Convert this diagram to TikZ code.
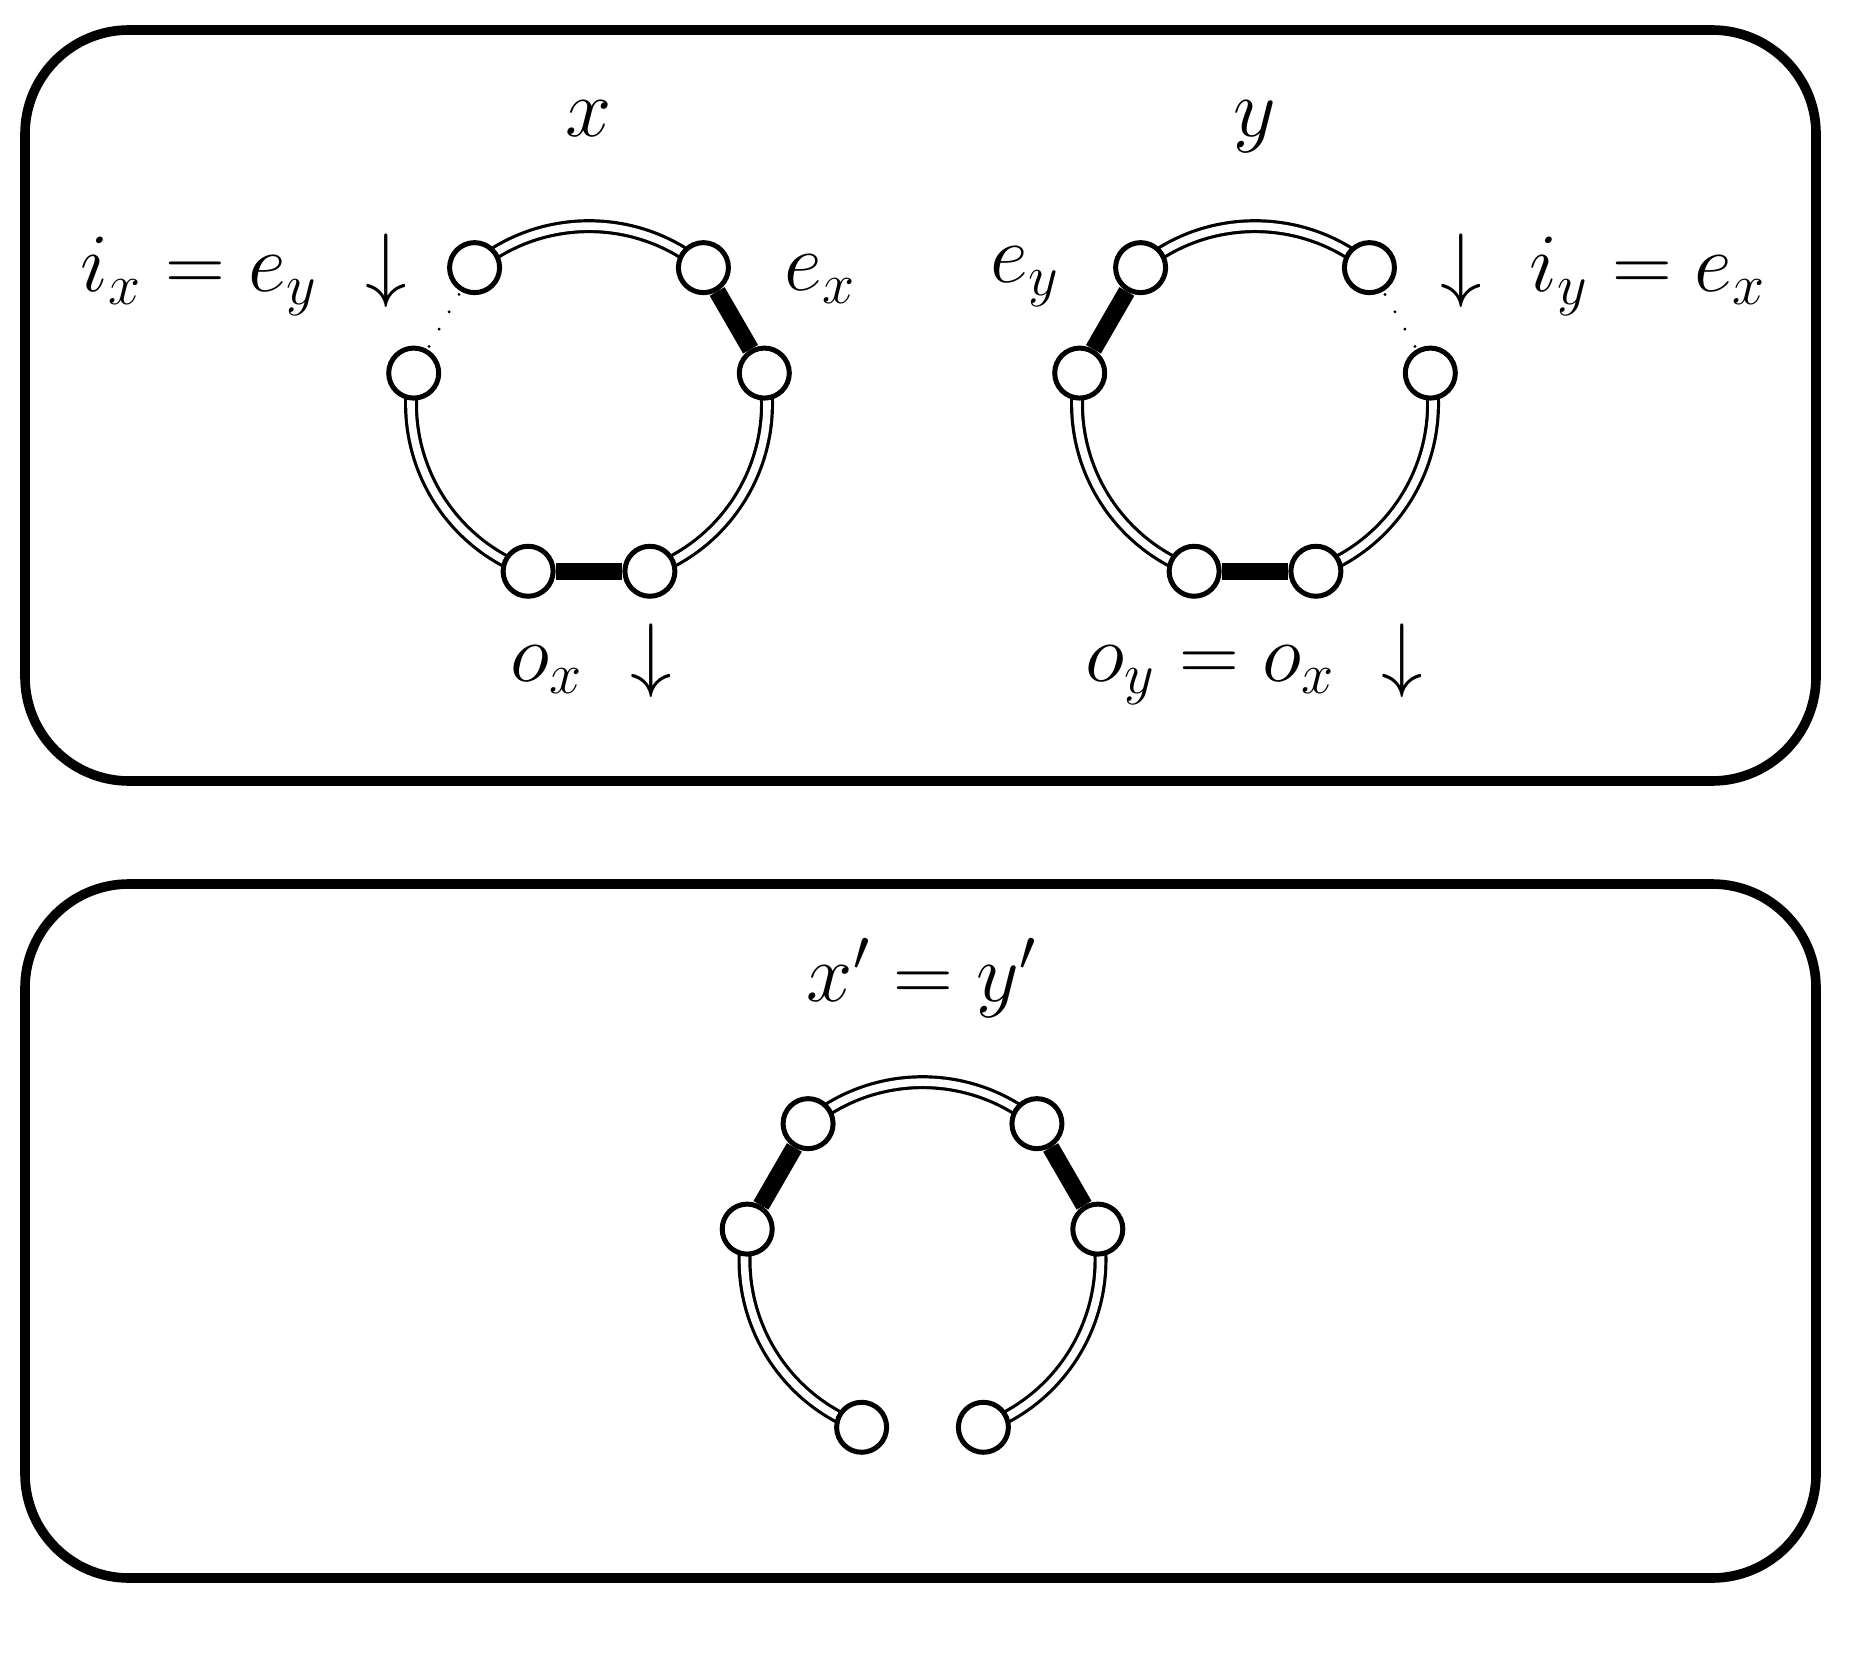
\documentclass[tikz,border=0pt]{standalone}
\usetikzlibrary{backgrounds}
\begin{document}
\begin{tikzpicture}[x=0.25pt,y=0.25pt,
  font=\huge,
  box/.style={line width=2.4pt, rounded corners=26pt},
  vtx/.style={circle, draw, fill=white, line width=1.25pt, minimum size=12.5pt, inner sep=0pt},
  dbl/.style={double, line width=0.8pt, double distance=1.9pt},
  arceighty/.style={bend left=40, looseness=0.964},
  thk/.style={line width=4.3pt},
  dots/.style={line width=0.8pt, line cap=round, dash pattern=on 0pt off 5pt, dash phase=2.25pt},
  lbl/.style={inner sep=0pt, anchor=base west},
  arr/.style={inner sep=0pt, anchor=base}]
\useasboundingbox (0,0) rectangle (1860,1652);

% frames
\draw[box] (25,1622) rectangle (1816,871);
\draw[box] (25,768) rectangle (1816,74);

% ring centres
\coordinate (cx) at (589,1248);
\coordinate (cy) at (1255,1248);
\coordinate (cz) at (922.5,392);

% ring x
\node[vtx] (xa) at ([shift={(10:178)}]cx) {};
\node[vtx] (xb) at ([shift={(50:178)}]cx) {};
\node[vtx] (xc) at ([shift={(130:178)}]cx) {};
\node[vtx] (xd) at ([shift={(170:178)}]cx) {};
\node[vtx] (xe) at ([shift={(250:178)}]cx) {};
\node[vtx] (xf) at ([shift={(290:178)}]cx) {};
% ring y
\node[vtx] (ya) at ([shift={(10:178)}]cy) {};
\node[vtx] (yb) at ([shift={(50:178)}]cy) {};
\node[vtx] (yc) at ([shift={(130:178)}]cy) {};
\node[vtx] (yd) at ([shift={(170:178)}]cy) {};
\node[vtx] (ye) at ([shift={(250:178)}]cy) {};
\node[vtx] (yf) at ([shift={(290:178)}]cy) {};
% ring z
\node[vtx] (za) at ([shift={(10:178)}]cz) {};
\node[vtx] (zb) at ([shift={(50:178)}]cz) {};
\node[vtx] (zc) at ([shift={(130:178)}]cz) {};
\node[vtx] (zd) at ([shift={(170:178)}]cz) {};
\node[vtx] (ze) at ([shift={(250:178)}]cz) {};
\node[vtx] (zf) at ([shift={(290:178)}]cz) {};

\begin{scope}[on background layer]
  % ring x
  \draw[dbl] (xc.center) to[arceighty] (xb.center);
  \draw[thk] (xb) -- (xa);
  \draw[dbl] (xa.center) to[arceighty] (xf.center);
  \draw[thk] (xf) -- (xe);
  \draw[dbl] (xe.center) to[arceighty] (xd.center);
  \draw[dots] (xc.center) -- (xd.center);
  % ring y
  \draw[dbl] (yc.center) to[arceighty] (yb.center);
  \draw[dots] (yb.center) -- (ya.center);
  \draw[dbl] (ya.center) to[arceighty] (yf.center);
  \draw[thk] (yf) -- (ye);
  \draw[dbl] (ye.center) to[arceighty] (yd.center);
  \draw[thk] (yd) -- (yc);
  % ring z
  \draw[dbl] (zc.center) to[arceighty] (zb.center);
  \draw[thk] (zb) -- (za);
  \draw[dbl] (za.center) to[arceighty] (zf.center);
  \draw[dbl] (ze.center) to[arceighty] (zd.center);
  \draw[thk] (zd) -- (zc);
\end{scope}

% labels
\node[arr] (lx) at (589,1515) {$x$};
\node[arr] (ly) at (1255,1515) {$y$};
\node[lbl] (lix) at (80,1360) {$i_x = e_y$};
\node[arr] (ax1) at (386,1360) {$\downarrow$};
\node[lbl] (lex) at (784,1361) {$e_x$};
\node[lbl] (ley) at (990,1369) {$e_y$};
\node[arr] (ay1) at (1461,1360) {$\downarrow$};
\node[lbl] (liy) at (1529,1360) {$i_y = e_x$};
\node[lbl] (lox) at (510,971) {$o_x$};
\node[arr] (ax2) at (651,971) {$\downarrow$};
\node[lbl] (loy) at (1085,971) {$o_y = o_x$};
\node[arr] (ay2) at (1402,971) {$\downarrow$};
\node[arr] (lxy) at (922,651) {$x' = y'$};
\end{tikzpicture}
\end{document}
